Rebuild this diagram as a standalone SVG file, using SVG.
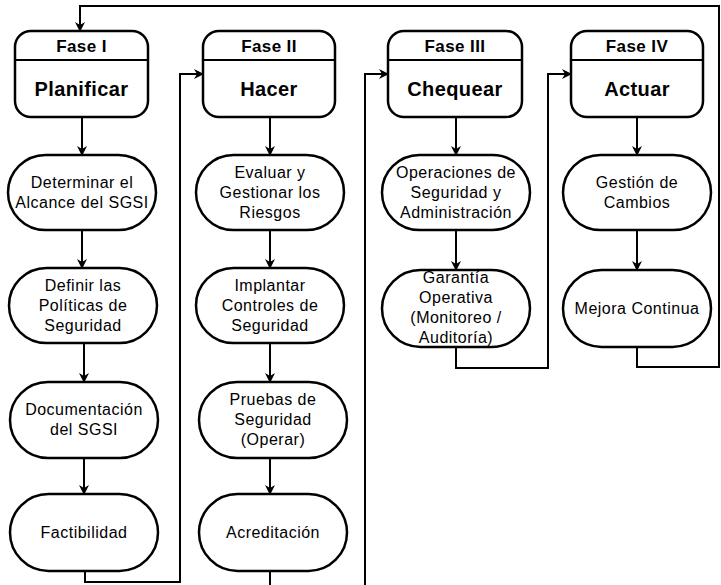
<svg xmlns="http://www.w3.org/2000/svg" width="721" height="585" viewBox="0 0 721 585">
<defs>
<marker id="ah" markerWidth="10" markerHeight="10" refX="9" refY="5" orient="auto" markerUnits="userSpaceOnUse">
<path d="M0,0 L10,5 L0,10 L3,5 Z" fill="#000"/>
</marker>
<style>
.box{fill:#fff;stroke:#000;stroke-width:2.5}
.ln{fill:none;stroke:#000;stroke-width:2}
.hd{font-family:"Liberation Sans",Arial,sans-serif;font-weight:bold;font-size:17px;letter-spacing:0.4px;text-anchor:middle;fill:#000}
.ht{font-family:"Liberation Sans",Arial,sans-serif;font-weight:bold;font-size:20px;letter-spacing:0.4px;text-anchor:middle;fill:#000}
.tx{font-family:"Liberation Sans",Arial,sans-serif;font-size:16px;letter-spacing:0.5px;text-anchor:middle;fill:#000}
</style>
</defs>
<rect width="721" height="585" fill="#fff"/>
<g id="connectors">
<path class="ln" d="M82,117 V155" marker-end="url(#ah)"/>
<path class="ln" d="M82,230 V268" marker-end="url(#ah)"/>
<path class="ln" d="M84,343 V382" marker-end="url(#ah)"/>
<path class="ln" d="M84,458 V494" marker-end="url(#ah)"/>
<path class="ln" d="M85,571 V582 H180 V74 H203" marker-end="url(#ah)"/>
<path class="ln" d="M270,117 V155" marker-end="url(#ah)"/>
<path class="ln" d="M270,230 V268" marker-end="url(#ah)"/>
<path class="ln" d="M270,343 V382" marker-end="url(#ah)"/>
<path class="ln" d="M270,458 V494" marker-end="url(#ah)"/>
<path class="ln" d="M270,571 V592 H365 V74 H388" marker-end="url(#ah)"/>
<path class="ln" d="M456,117 V155" marker-end="url(#ah)"/>
<path class="ln" d="M456,230 V270" marker-end="url(#ah)"/>
<path class="ln" d="M456,347 V368 H548 V74 H571" marker-end="url(#ah)"/>
<path class="ln" d="M637,117 V155" marker-end="url(#ah)"/>
<path class="ln" d="M637,230 V270" marker-end="url(#ah)"/>
<path class="ln" d="M637,347 V367 H719 V6 H80 V31" marker-end="url(#ah)"/>
</g>
<g id="fase1">
<rect class="box" x="15" y="31" width="133" height="86" rx="16"/>
<line class="ln" x1="15" y1="60" x2="148" y2="60"/>
<text class="hd" x="81.5" y="52">Fase I</text>
<text class="ht" x="81.5" y="96">Planificar</text>
</g>
<g id="fase2">
<rect class="box" x="203" y="31" width="132" height="86" rx="16"/>
<line class="ln" x1="203" y1="60" x2="335" y2="60"/>
<text class="hd" x="269" y="52">Fase II</text>
<text class="ht" x="269" y="96">Hacer</text>
</g>
<g id="fase3">
<rect class="box" x="388" y="31" width="134" height="86" rx="16"/>
<line class="ln" x1="388" y1="60" x2="522" y2="60"/>
<text class="hd" x="455" y="52">Fase III</text>
<text class="ht" x="455" y="96">Chequear</text>
</g>
<g id="fase4">
<rect class="box" x="571" y="31" width="132" height="86" rx="16"/>
<line class="ln" x1="571" y1="60" x2="703" y2="60"/>
<text class="hd" x="637" y="52">Fase IV</text>
<text class="ht" x="637" y="96">Actuar</text>
</g>
<g id="determinar">
<rect class="box" x="8" y="155" width="148" height="75" rx="37.5"/>
<text class="tx" x="82" y="188">Determinar el</text>
<text class="tx" x="82" y="208">Alcance del SGSI</text>
</g>
<g id="definir">
<rect class="box" x="9" y="268" width="148" height="75" rx="37.5"/>
<text class="tx" x="83" y="291">Definir las</text>
<text class="tx" x="83" y="311">Políticas de</text>
<text class="tx" x="83" y="331">Seguridad</text>
</g>
<g id="documentacion">
<rect class="box" x="10" y="382" width="148" height="76" rx="38"/>
<text class="tx" x="84" y="415">Documentación</text>
<text class="tx" x="84" y="435">del SGSI</text>
</g>
<g id="factibilidad">
<rect class="box" x="10" y="494" width="148" height="77" rx="38.5"/>
<text class="tx" x="84" y="538">Factibilidad</text>
</g>
<g id="evaluar">
<rect class="box" x="196" y="155" width="148" height="75" rx="37.5"/>
<text class="tx" x="270" y="178">Evaluar y</text>
<text class="tx" x="270" y="198">Gestionar los</text>
<text class="tx" x="270" y="218">Riesgos</text>
</g>
<g id="implantar">
<rect class="box" x="196" y="268" width="148" height="75" rx="37.5"/>
<text class="tx" x="270" y="291">Implantar</text>
<text class="tx" x="270" y="311">Controles de</text>
<text class="tx" x="270" y="331">Seguridad</text>
</g>
<g id="pruebas">
<rect class="box" x="199" y="382" width="148" height="76" rx="38"/>
<text class="tx" x="273" y="405">Pruebas de</text>
<text class="tx" x="273" y="425">Seguridad</text>
<text class="tx" x="273" y="445">(Operar)</text>
</g>
<g id="acreditacion">
<rect class="box" x="199" y="494" width="148" height="77" rx="38.5"/>
<text class="tx" x="273" y="538">Acreditación</text>
</g>
<g id="operaciones">
<rect class="box" x="382" y="155" width="148" height="75" rx="37.5"/>
<text class="tx" x="456" y="178">Operaciones de</text>
<text class="tx" x="456" y="198">Seguridad y</text>
<text class="tx" x="456" y="218">Administración</text>
</g>
<g id="garantia">
<rect class="box" x="382" y="270" width="148" height="77" rx="38.5"/>
<text class="tx" x="456" y="283">Garantía</text>
<text class="tx" x="456" y="303">Operativa</text>
<text class="tx" x="456" y="323">(Monitoreo /</text>
<text class="tx" x="456" y="343">Auditoría)</text>
</g>
<g id="gestion">
<rect class="box" x="563" y="155" width="148" height="75" rx="37.5"/>
<text class="tx" x="637" y="188">Gestión de</text>
<text class="tx" x="637" y="208">Cambios</text>
</g>
<g id="mejora">
<rect class="box" x="563" y="270" width="148" height="77" rx="38.5"/>
<text class="tx" x="637" y="314">Mejora Continua</text>
</g>
</svg>
